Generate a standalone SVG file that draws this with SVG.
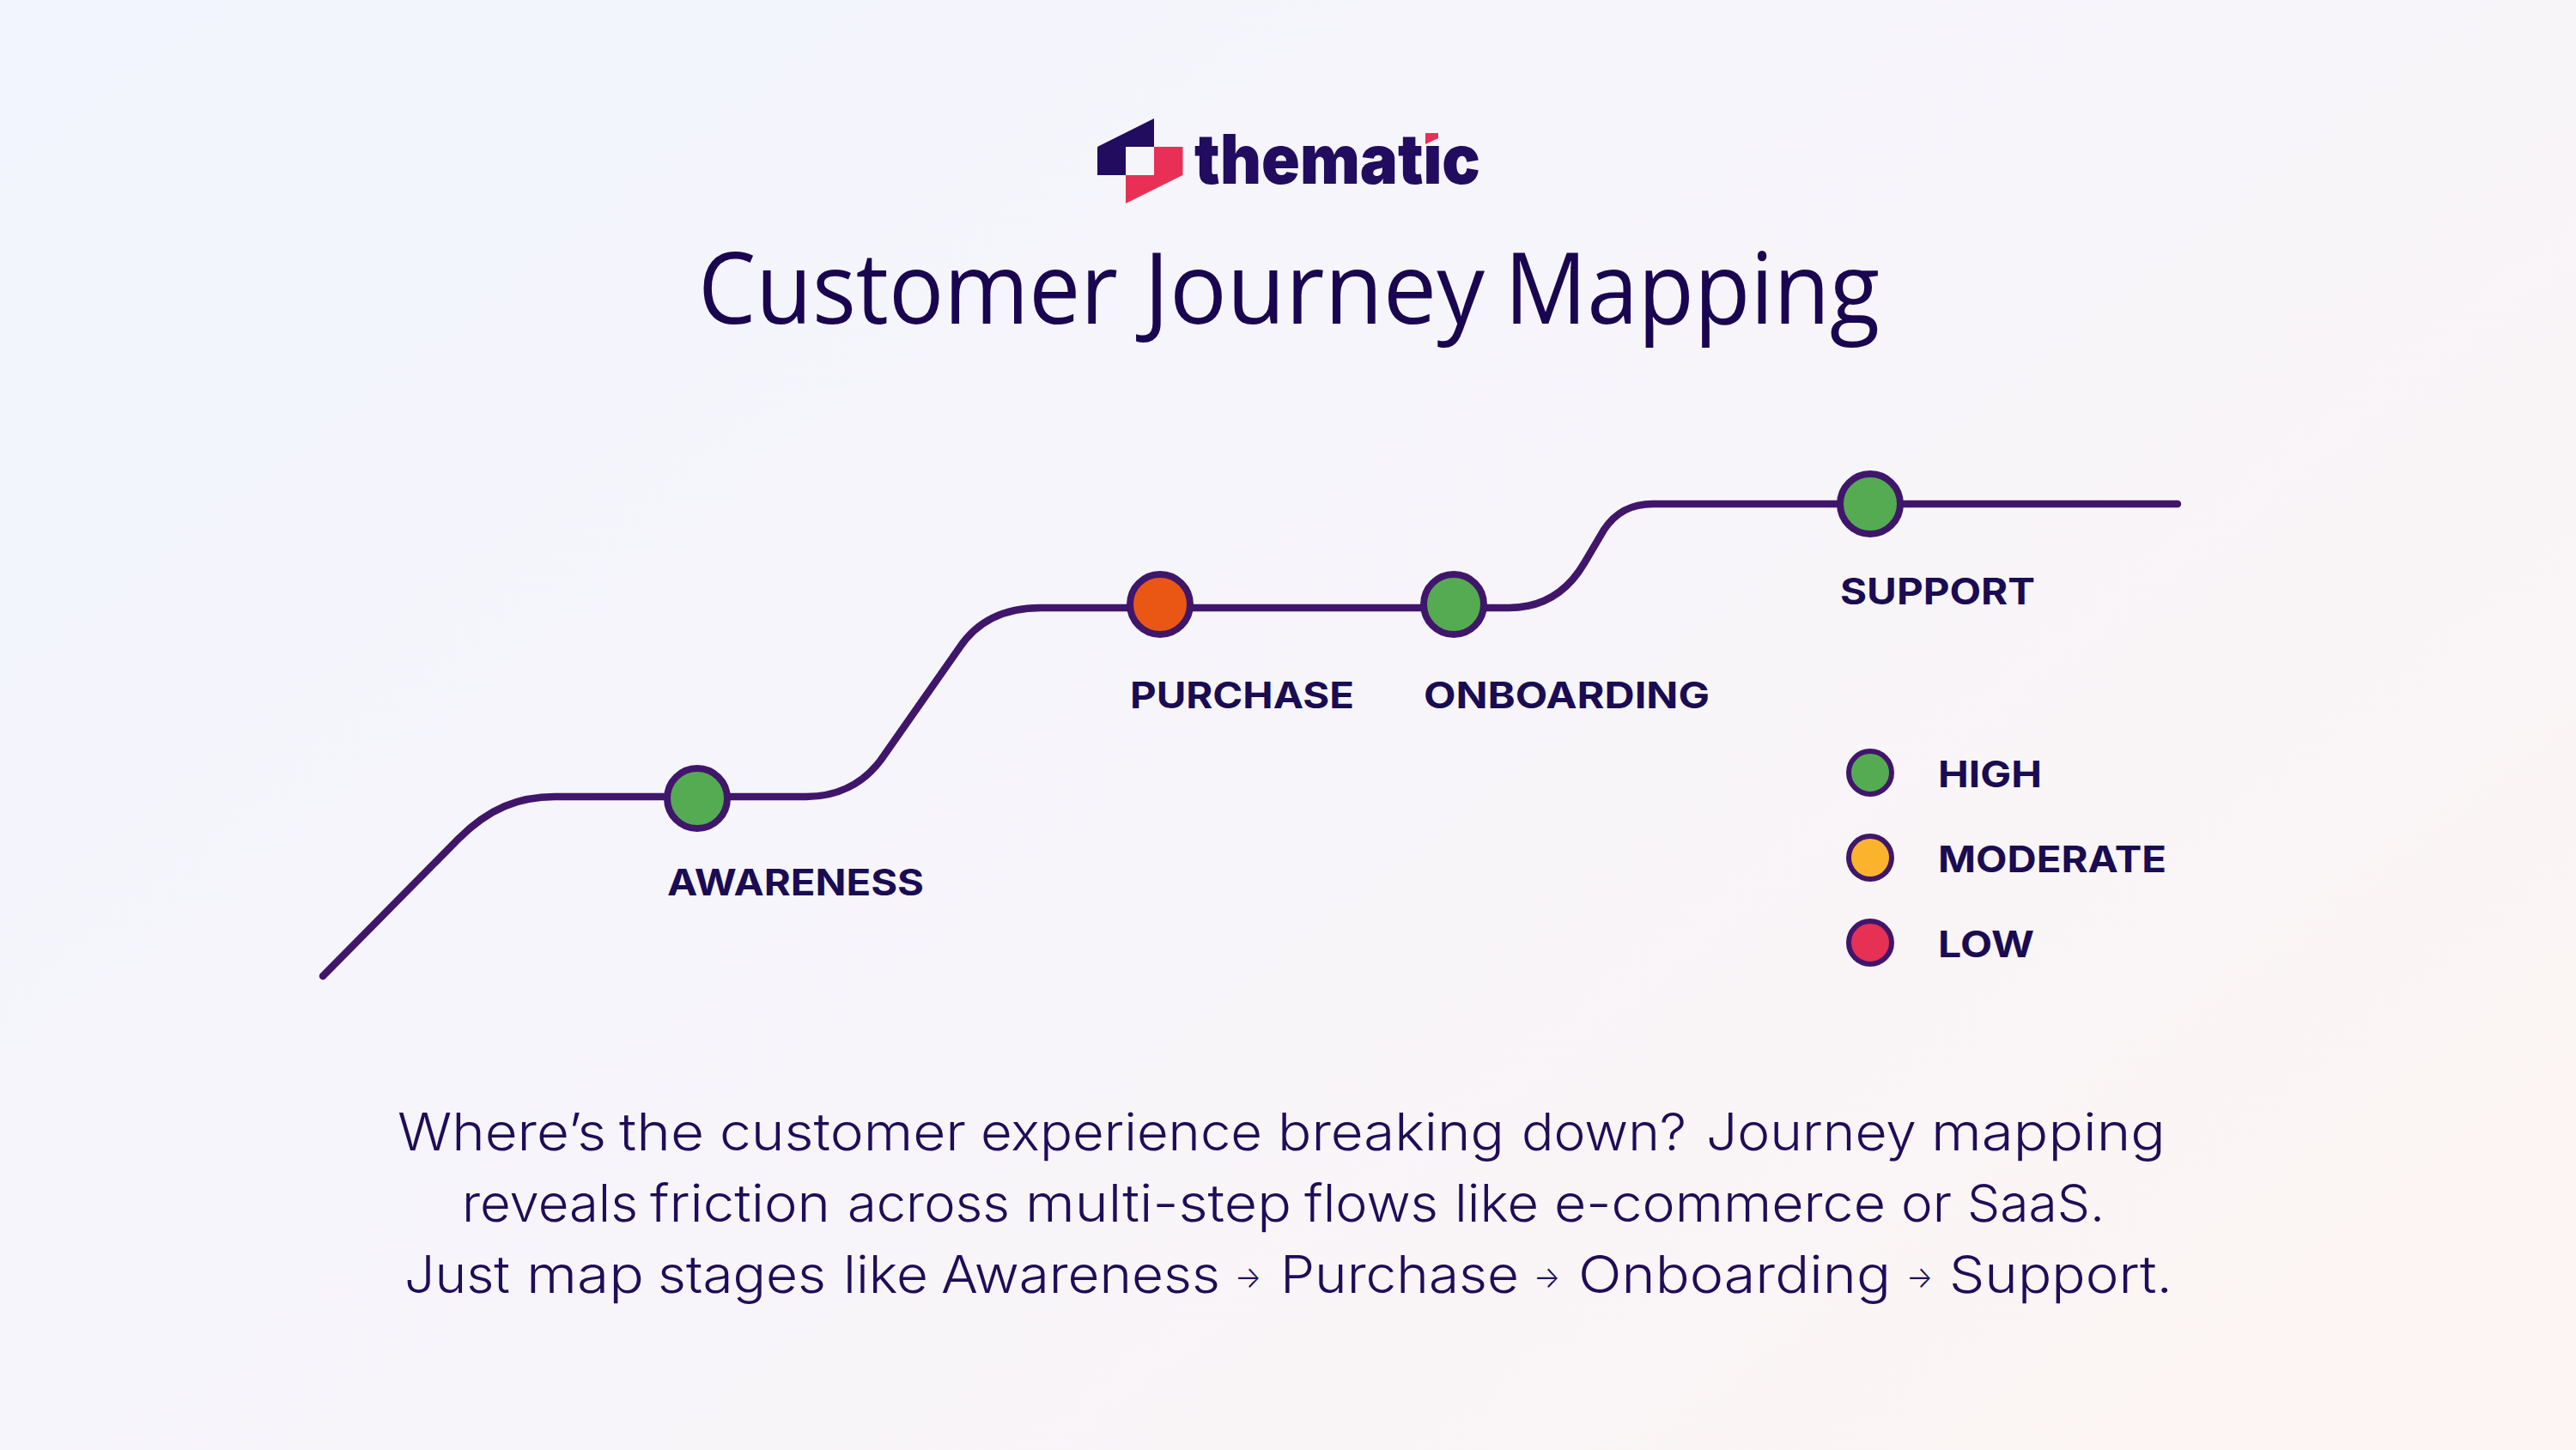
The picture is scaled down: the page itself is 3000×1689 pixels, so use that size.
<svg xmlns="http://www.w3.org/2000/svg" width="3000" height="1689" viewBox="0 0 3000 1689">
<defs>
<linearGradient id="bg" gradientUnits="userSpaceOnUse" x1="600" y1="-300" x2="2400" y2="1989">
<stop offset="0" stop-color="#f2f5fd"/>
<stop offset="0.5" stop-color="#f7f5fa"/>
<stop offset="1" stop-color="#fcf5f3"/>
</linearGradient>
</defs>
<style>
.stage{font-family:"Inter","Liberation Sans",sans-serif;font-weight:700;font-size:42px;fill:#1a0c52}
.dot{stroke:#40166b;stroke-width:8}
.key{stroke:#40166b;stroke-width:6}
.body{font-family:"Inter","Liberation Sans",sans-serif;font-size:60px;font-weight:300;fill:#1f0d58}
.arr{font-size:36px}
.title{font-family:"Open Sans","Noto Sans",sans-serif;font-size:116px;font-weight:500;fill:#1a0550}
.curve{fill:none;stroke:#40166b;stroke-width:8.5;stroke-linecap:round}
</style>
<rect width="3000" height="1689" fill="url(#bg)"/>
<g id="logo">
<polygon points="1278,171 1344,138 1344,171 1311,171 1311,204 1278,204" fill="#210c5f"/>
<polygon points="1344,171 1377.5,171 1377.5,204 1311,237 1311,204 1344,204" fill="#e83056"/>
<text x="1391" y="214" font-family="Inter,'Liberation Sans',sans-serif" font-weight="900" font-size="80" fill="#210c5f" textLength="333" lengthAdjust="spacingAndGlyphs">thematic</text>
<rect x="1655" y="148" width="26" height="21" fill="#f5f5fb"/>
<polygon points="1660,155 1675,155 1675,161 1660,168" fill="#e83056"/>
</g>
<text id="title" class="title" y="377"><tspan x="813" textLength="489" lengthAdjust="spacingAndGlyphs">Customer</tspan> <tspan x="1332" textLength="397" lengthAdjust="spacingAndGlyphs">Journey</tspan> <tspan x="1752" textLength="437" lengthAdjust="spacingAndGlyphs">Mapping</tspan></text>
<g id="connectors">
<path class="curve" d="M376,1137 L534,977 C570,941 605,928 646,928 L939,928 C975,928 1005,913 1026,885 L1117,755 C1140,720 1175,708 1212,708 L1757,708 C1795,708 1825,690 1845,656 L1868,617 C1882,596 1900,587 1925,587 L2536,587"/>
</g>
<g id="awareness"><circle class="dot" cx="812" cy="930" r="35" fill="#55ab52"/><text class="stage" x="777" y="1043" textLength="299" lengthAdjust="spacingAndGlyphs">AWARENESS</text></g>
<g id="purchase"><circle class="dot" cx="1351" cy="704" r="35" fill="#ea5715"/><text class="stage" x="1316" y="825" textLength="261" lengthAdjust="spacingAndGlyphs">PURCHASE</text></g>
<g id="onboarding"><circle class="dot" cx="1693" cy="704" r="35" fill="#55ab52"/><text class="stage" x="1658" y="825" textLength="333" lengthAdjust="spacingAndGlyphs">ONBOARDING</text></g>
<g id="support"><circle class="dot" cx="2178" cy="587" r="35" fill="#55ab52"/><text class="stage" x="2143" y="704" textLength="227" lengthAdjust="spacingAndGlyphs">SUPPORT</text></g>
<g id="legend-high"><circle class="key" cx="2178" cy="900" r="25" fill="#55ab52"/><text class="stage" x="2257" y="917" textLength="121" lengthAdjust="spacingAndGlyphs">HIGH</text></g>
<g id="legend-moderate"><circle class="key" cx="2178" cy="999" r="25" fill="#fbb32d"/><text class="stage" x="2257" y="1016" textLength="266" lengthAdjust="spacingAndGlyphs">MODERATE</text></g>
<g id="legend-low"><circle class="key" cx="2178" cy="1098" r="25" fill="#e63054"/><text class="stage" x="2257" y="1115" textLength="112" lengthAdjust="spacingAndGlyphs">LOW</text></g>
<g id="description">
<text class="body" y="1340"><tspan x="463" textLength="243" lengthAdjust="spacingAndGlyphs">Where’s</tspan> <tspan x="721" textLength="99" lengthAdjust="spacingAndGlyphs">the</tspan> <tspan x="838" textLength="287" lengthAdjust="spacingAndGlyphs">customer</tspan> <tspan x="1142" textLength="328" lengthAdjust="spacingAndGlyphs">experience</tspan> <tspan x="1488" textLength="264" lengthAdjust="spacingAndGlyphs">breaking</tspan> <tspan x="1772" textLength="192" lengthAdjust="spacingAndGlyphs">down?</tspan> <tspan x="1987" textLength="245" lengthAdjust="spacingAndGlyphs">Journey</tspan> <tspan x="2249" textLength="273" lengthAdjust="spacingAndGlyphs">mapping</tspan></text>
<text class="body" y="1423"><tspan x="538" textLength="205" lengthAdjust="spacingAndGlyphs">reveals</tspan> <tspan x="757" textLength="210" lengthAdjust="spacingAndGlyphs">friction</tspan> <tspan x="987" textLength="189" lengthAdjust="spacingAndGlyphs">across</tspan> <tspan x="1194" textLength="310" lengthAdjust="spacingAndGlyphs">multi-step</tspan> <tspan x="1519" textLength="156" lengthAdjust="spacingAndGlyphs">flows</tspan> <tspan x="1694" textLength="98" lengthAdjust="spacingAndGlyphs">like</tspan> <tspan x="1810" textLength="386" lengthAdjust="spacingAndGlyphs">e-commerce</tspan> <tspan x="2214" textLength="59" lengthAdjust="spacingAndGlyphs">or</tspan> <tspan x="2291" textLength="160" lengthAdjust="spacingAndGlyphs">SaaS.</tspan></text>
<text class="body" y="1506"><tspan x="471" textLength="123" lengthAdjust="spacingAndGlyphs">Just</tspan> <tspan x="613" textLength="137" lengthAdjust="spacingAndGlyphs">map</tspan> <tspan x="766" textLength="196" lengthAdjust="spacingAndGlyphs">stages</tspan> <tspan x="982" textLength="99" lengthAdjust="spacingAndGlyphs">like</tspan> <tspan x="1096" textLength="325" lengthAdjust="spacingAndGlyphs">Awareness</tspan> <tspan class="arr" x="1438" y="1500" textLength="31" lengthAdjust="spacingAndGlyphs">→</tspan> <tspan x="1491" y="1506" textLength="278" lengthAdjust="spacingAndGlyphs">Purchase</tspan> <tspan class="arr" x="1786" y="1500" textLength="31" lengthAdjust="spacingAndGlyphs">→</tspan> <tspan x="1838" y="1506" textLength="364" lengthAdjust="spacingAndGlyphs">Onboarding</tspan> <tspan class="arr" x="2220" y="1500" textLength="31" lengthAdjust="spacingAndGlyphs">→</tspan> <tspan x="2270" y="1506" textLength="260" lengthAdjust="spacingAndGlyphs">Support.</tspan></text>
</g>
</svg>
